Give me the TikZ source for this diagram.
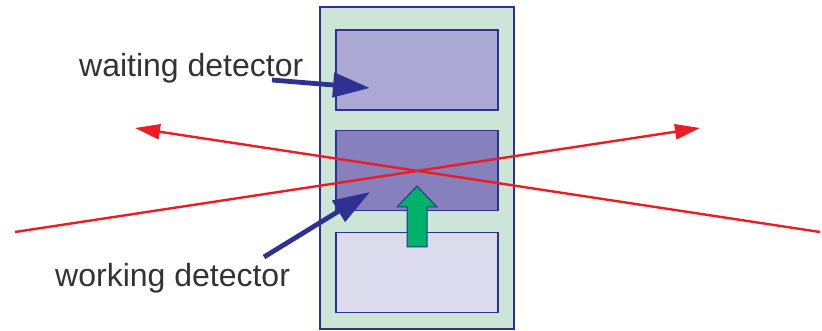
\documentclass[tikz,border=0pt]{standalone}
\usepackage{fontspec}
\setmainfont{Liberation Sans}
\usetikzlibrary{arrows.meta,positioning}
\definecolor{edgeblue}{RGB}{46,49,146}
\definecolor{rayred}{RGB}{237,28,36}
\definecolor{framefill}{RGB}{205,229,214}
\definecolor{waitfill}{RGB}{172,168,212}
\definecolor{workfill}{RGB}{134,128,188}
\definecolor{idlefill}{RGB}{220,219,238}
\definecolor{pushgreen}{RGB}{0,177,107}
\definecolor{textgray}{RGB}{51,51,51}

\begin{document}
\begin{tikzpicture}[
    x=1pt, y=-1pt,
    nosep/.style={inner sep=0},
    frame/.style={draw=edgeblue, line width=1.3pt},
    detbox/.style={frame, minimum width=162pt, minimum height=80pt},
    detlabel/.style={nosep, anchor=base west, text=textgray, font=\fontsize{32}{38}\selectfont},
    ray/.style={draw=rayred, line width=2.4pt, -{Triangle[length=25pt,width=15pt]}},
    pointer/.style={draw=edgeblue, line width=4.8pt, -{Triangle[length=37pt,width=24pt]}}]
\useasboundingbox (0,0) rectangle (822,331);

% detector stack
\node[frame, fill=framefill, minimum width=194pt, minimum height=322pt] (stack) at (417,168) {};
\node[detbox, fill=waitfill] (waiting) at (417,70) {};
\node[detbox, fill=workfill, below=19pt of waiting] (working) {};
\node[detbox, fill=idlefill, below=21pt of working] (idle) {};

% push arrow from the lower box
\draw[edgeblue, fill=pushgreen, line width=1pt]
    (407,247) -- (407,207) -- (397,207) -- (417,186) -- (437,207) -- (427,207) -- (427,247) -- cycle;

% crossing tracks
\coordinate (trackAin) at (15,232);
\coordinate (trackAout) at (700,128);
\coordinate (trackBin) at (820,232);
\coordinate (trackBout) at (135,128);
\draw[ray] (trackAin) -- (trackAout);
\draw[ray] (trackBin) -- (trackBout);

% labels
\node[detlabel] (waitlbl) at (79,77) {waiting detector};
\node[detlabel] (worklbl) at (55,287) {working detector};

\coordinate (waitfrom) at (272,80);
\coordinate (waitto) at (370,88);
\coordinate (workfrom) at (264,257);
\coordinate (workto) at (370,192);
\draw[pointer] (waitfrom) -- (waitto);
\draw[pointer] (workfrom) -- (workto);

\end{tikzpicture}
\end{document}
